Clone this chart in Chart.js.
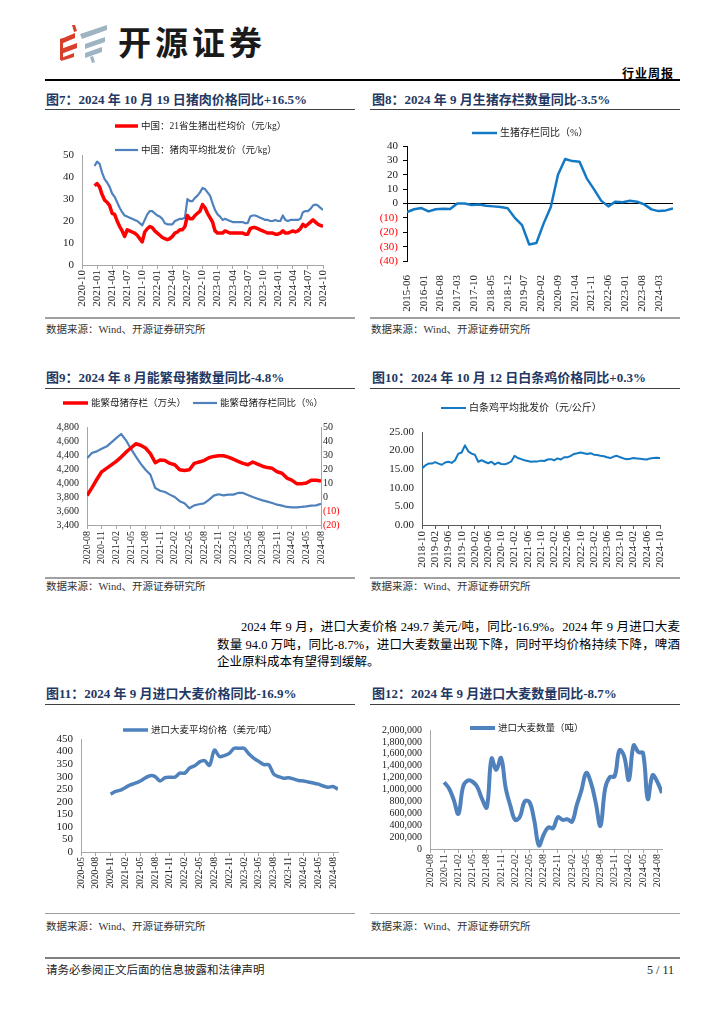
<!DOCTYPE html>
<html lang="zh-CN">
<head>
<meta charset="utf-8">
<title>行业周报 5/11</title>
<script src="https://cdn.jsdelivr.net/npm/chart.js@4.4.1/dist/chart.umd.min.js"></script>
<style>
  html, body { margin: 0; padding: 0; background: #fff; }
  #page { position: relative; width: 724px; height: 1024px; overflow: hidden;
          font-family: 'Liberation Serif', 'Noto Sans CJK SC', serif; color: #000; }
  .abs { position: absolute; }
  .title { position: absolute; font-size: 13px; font-weight: bold; color: #1f3864; line-height: 18px; white-space: nowrap; }
  .src { position: absolute; font-size: 10.5px; color: #333; line-height: 14px; white-space: nowrap; }
  .para { position: absolute; font-size: 12.5px; line-height: 18px; white-space: nowrap; }
  .just { text-align: justify; text-align-last: justify; }
  canvas { position: absolute; }
</style>
</head>
<body>
<div id="page">
  <!-- header -->
  <svg class="abs" style="left:58px;top:22px" width="52" height="42" viewBox="0 0 52 42">
    <g fill="#d9402b">
      <polygon points="14,3 17,3 19,9 16,10"/>
      <polygon points="3,17 17,11 17,16 3,22"/>
      <polygon points="3,27 19,21 19,26 3,32"/>
      <polygon points="3,36 16,31 16,35 3,39"/>
      <polygon points="2,17 5,16 5,38 2,38"/>
    </g>
    <g fill="#9fb4c3">
      <polygon points="22,12 49,3 49,8 24,17"/>
      <polygon points="27,22 47,15 47,20 27,27"/>
      <polygon points="27,31 44,25 44,30 27,36"/>
      <polygon points="32,35 35,34 37,40 34,41"/>
    </g>
  </svg>
  <div class="abs" style="left:118px;top:21px;font-family:'Noto Sans CJK SC';font-weight:bold;font-size:33px;line-height:40px;letter-spacing:4px;color:#1a1a1a">开源证券</div>
  <div class="abs" style="right:50px;top:65px;font-family:'Noto Sans CJK SC';font-weight:bold;font-size:12px;line-height:16px;letter-spacing:1px">行业周报</div>
  <div class="abs" style="left:45px;top:79px;width:635px;height:1.5px;background:#000"></div>

  <!-- row 1 -->
  <div class="title" style="left:46px;top:91px">图7：2024 年 10 月 19 日猪肉价格同比+16.5%</div>
  <div class="title" style="left:372px;top:91px">图8：2024 年 9 月生猪存栏数量同比-3.5%</div>
  <div class="abs" style="left:45px;top:108.5px;width:310px;height:1px;background:#404040"></div>
  <div class="abs" style="left:370px;top:108.5px;width:310px;height:1px;background:#404040"></div>
  <canvas id="c7" width="310" height="206" style="left:45px;top:111px"></canvas>
  <canvas id="c8" width="315" height="206" style="left:365px;top:111px"></canvas>
  <div class="abs" style="left:45px;top:317px;width:310px;height:1.5px;background:#a0a0a0"></div>
  <div class="abs" style="left:370px;top:317px;width:310px;height:1.5px;background:#a0a0a0"></div>
  <div class="src" style="left:46px;top:323px">数据来源：Wind、开源证券研究所</div>
  <div class="src" style="left:371px;top:323px">数据来源：Wind、开源证券研究所</div>

  <!-- row 2 -->
  <div class="title" style="left:46px;top:369px">图9：2024 年 8 月能繁母猪数量同比-4.8%</div>
  <div class="title" style="left:372px;top:369px">图10：2024 年 10 月 12 日白条鸡价格同比+0.3%</div>
  <div class="abs" style="left:45px;top:388px;width:310px;height:1px;background:#404040"></div>
  <div class="abs" style="left:370px;top:388px;width:310px;height:1px;background:#404040"></div>
  <canvas id="c9" width="310" height="187" style="left:45px;top:390px"></canvas>
  <canvas id="c10" width="315" height="187" style="left:365px;top:390px"></canvas>
  <div class="abs" style="left:45px;top:577px;width:310px;height:1.5px;background:#a0a0a0"></div>
  <div class="abs" style="left:370px;top:577px;width:310px;height:1.5px;background:#a0a0a0"></div>
  <div class="src" style="left:46px;top:580px">数据来源：Wind、开源证券研究所</div>
  <div class="src" style="left:371px;top:580px">数据来源：Wind、开源证券研究所</div>

  <!-- paragraph -->
  <div class="para just" style="left:241px;top:618px;width:439px">2024 年 9 月，进口大麦价格 249.7 美元/吨，同比-16.9%。2024 年 9 月进口大麦</div>
  <div class="para just" style="left:217px;top:636px;width:463px">数量 94.0 万吨，同比-8.7%，进口大麦数量出现下降，同时平均价格持续下降，啤酒</div>
  <div class="para" style="left:217px;top:653px">企业原料成本有望得到缓解。</div>

  <!-- row 3 -->
  <div class="title" style="left:46px;top:685px">图11：2024 年 9 月进口大麦价格同比-16.9%</div>
  <div class="title" style="left:372px;top:685px">图12：2024 年 9 月进口大麦数量同比-8.7%</div>
  <div class="abs" style="left:45px;top:704px;width:310px;height:1px;background:#404040"></div>
  <div class="abs" style="left:370px;top:704px;width:310px;height:1px;background:#404040"></div>
  <canvas id="c11" width="310" height="206" style="left:45px;top:706px"></canvas>
  <canvas id="c12" width="315" height="206" style="left:365px;top:706px"></canvas>
  <div class="abs" style="left:45px;top:912.5px;width:310px;height:1.5px;background:#a0a0a0"></div>
  <div class="abs" style="left:370px;top:912.5px;width:310px;height:1.5px;background:#a0a0a0"></div>
  <div class="src" style="left:46px;top:920px">数据来源：Wind、开源证券研究所</div>
  <div class="src" style="left:371px;top:920px">数据来源：Wind、开源证券研究所</div>

  <!-- footer -->
  <div class="abs" style="left:45px;top:957px;width:635px;height:1.5px;background:#808080"></div>
  <div class="abs" style="left:46px;top:962px;font-size:11.5px;line-height:16px;color:#222">请务必参阅正文后面的信息披露和法律声明</div>
  <div class="abs" style="right:50px;top:962px;font-size:12px;line-height:16px;color:#222">5 / 11</div>
</div>

<script>
const FONT = "'Liberation Serif', 'Noto Sans CJK SC', serif";
const RED = "#ff0000";
const BLUE = "#4f81bd";
const BLUE2 = "#1479c4";
const GRAY = "#a6a6a6";

// Fig 7: pig prices, half-month samples, months after 2020-10
const pigLabels = ["2020-10", "2021-01", "2021-04", "2021-07", "2021-10", "2022-01", "2022-04", "2022-07", "2022-10",
                   "2023-01", "2023-04", "2023-07", "2023-10", "2024-01", "2024-04", "2024-07", "2024-10"];
const pigStart = 2.5, pigStep = 0.5;
const hogPrice = [
    36, 37, 35.5, 32, 29.5, 28.5, 27, 23.5, 23, 20, 17.5, 15.5,
    13, 16, 15.5, 15, 14.5, 13.5, 12, 10.5, 15, 16.5, 17.5, 17,
    15.5, 14.5, 13.5, 12.5, 12, 11.5, 12, 13, 14.5, 15, 16, 16,
    17.5, 22.5, 21, 21, 22.5, 23.5, 24.5, 27.5, 26, 23.5, 21.5, 19.5,
    15.5, 14.5, 14.5, 14.5, 15.5, 15, 14.5, 14.5, 14.5, 14.5, 14.5, 14.5,
    14, 14, 16.5, 17, 17, 16.5, 16, 15.5, 15, 14.5, 14.5, 14.5,
    14, 14, 14.5, 15.5, 14.5, 14.5, 15, 15.5, 15, 15.5, 16.5, 18.5,
    17.5, 18.5, 19.5, 20.5, 19.5, 18.5, 18, 17.5
];
const porkPrice = [
    45, 47, 46, 42, 39, 37.5, 35.5, 32.5, 31, 28.5, 26, 24,
    22.5, 22, 21.5, 21, 20.5, 20, 19, 18, 20.5, 23, 24.5, 24.5,
    23.5, 22.5, 22, 21, 19, 18.5, 18.5, 18.5, 20, 20.5, 21, 21,
    21.5, 30, 29, 29, 30.5, 31.5, 33, 35, 34.5, 33, 31.5, 28,
    25, 23, 22, 20.5, 21, 20.5, 20, 19.5, 19.5, 19.5, 19.5, 19.5,
    19, 19, 22, 22.5, 22.5, 22, 21.5, 21, 20.5, 20.5, 20, 20,
    20.5, 20, 20, 22.5, 20.5, 20, 20.5, 20.5, 20.5, 20.5, 21, 24,
    24.5, 24.5, 25.5, 27, 27.5, 27, 26, 25
];

// Fig 8: hog inventory YoY, quarterly from 2015-06
const stockLabels = ["2015-06", "2016-01", "2016-08", "2017-03", "2017-10", "2018-05", "2018-12", "2019-07",
                     "2020-02", "2020-09", "2021-04", "2021-11", "2022-06", "2023-01", "2023-08", "2024-03"];
const stockYoy = [-6, -4, -3.2, -5.5, -4, -3.7, -3.8, 0, 0, -1, -0.7, -1.5, -2, -2.5, -3.3, -10, -15, -28.5, -27.5,
                  -14, -2.5, 20, 31, 29.5, 29, 17.5, 10, 2, -2, 1.3, 0.9, 1.9, 1.2, -0.6, -4.1, -5.3, -4.8, -3.5];

// Fig 9: breeding sows, monthly from 2020-08
const sowLabels = ["2020-08", "2020-11", "2021-02", "2021-05", "2021-08", "2021-11", "2022-02", "2022-05", "2022-08",
                   "2022-11", "2023-02", "2023-05", "2023-08", "2023-11", "2024-02", "2024-05", "2024-08"];
const sowStock = [3820, 3930, 4050, 4160, 4210, 4260, 4310, 4370, 4440, 4500,
                  4560, 4540, 4500, 4420, 4290, 4330, 4320, 4280, 4260, 4190,
                  4180, 4190, 4280, 4300, 4320, 4360, 4380, 4390, 4390, 4370,
                  4340, 4310, 4280, 4260, 4300, 4270, 4240, 4220, 4210, 4160,
                  4140, 4070, 4040, 3990, 3990, 4000, 4040, 4040, 4030];
const sowYoy = [27.6, 31.4, 32.6, 34.5, 36, 39, 42, 45, 40.5, 34.5,
                29, 23.8, 19.5, 16, 6.4, 4.5, 3.6, 1.7, 0, -3,
                -4.5, -8, -6, -5.2, -4.5, -2, 1, 2, 1.2, 1.7,
                1.7, 2.9, 2.9, 1.4, 0, -1.2, -2.4, -3.3, -4.3, -5.5,
                -6.2, -7.1, -7.4, -7.4, -7.1, -6.7, -6.2, -6, -4.8];

// Fig 10: broiler wholesale price, monthly from 2018-10
const chickenLabels = ["2018-10", "2019-02", "2019-06", "2019-10", "2020-02", "2020-06", "2020-10", "2021-02", "2021-06",
                       "2021-10", "2022-02", "2022-06", "2022-10", "2023-02", "2023-06", "2023-10", "2024-02", "2024-06", "2024-10"];
const chickenPrice = [15.2, 16, 16.5, 16.5, 16.9, 16.5, 16.2, 16.8, 17, 16.7,
                      17.4, 19.2, 19.5, 21.4, 19.8, 19.2, 18.9, 17, 17.4, 17,
                      16.6, 17, 16.3, 16.8, 16.4, 16.3, 16.6, 17.1, 18.6, 18,
                      17.7, 17.4, 17.2, 17, 17.1, 17.1, 17.3, 17.2, 17.6, 17.7,
                      17.4, 17.9, 17.6, 18.2, 18.2, 18.6, 19.1, 19.3, 19.5, 19.3,
                      19.1, 19.3, 18.9, 18.8, 18.6, 18.5, 18.2, 18, 18.4, 18.6,
                      18.2, 17.9, 17.7, 17.8, 18, 17.9, 17.8, 17.7, 17.6, 17.9,
                      18, 18.1, 18];

// Fig 11: imported barley price, monthly 2020-11 .. 2024-09 (axis from 2020-05)
const barleyPriceLabels = ["2020-05", "2020-08", "2020-11", "2021-02", "2021-05", "2021-08", "2021-11", "2022-02", "2022-05",
                           "2022-08", "2022-11", "2023-02", "2023-05", "2023-08", "2023-11", "2024-02", "2024-05", "2024-08"];
const barleyPrice = [230, 241, 246, 257, 267, 274, 283, 295, 304, 300,
                     283, 296, 298, 298, 314, 314, 335, 343, 359, 364,
                     345, 406, 380, 384, 393, 413, 413, 413, 390, 373,
                     360, 348, 347, 310, 300, 294, 296, 291, 285, 283,
                     279, 275, 270, 263, 258, 261, 249.7];

// Fig 12: imported barley volume (t), monthly 2020-11 .. 2024-09 (axis from 2020-08)
const barleyQtyLabels = sowLabels;
const barleyQty = [1120000, 1020000, 830000, 590000, 1050000, 1150000, 1130000, 1040000, 840000, 700000,
                   1520000, 1330000, 1530000, 1020000, 720000, 490000, 545000, 800000, 790000, 490000,
                   60000, 240000, 365000, 350000, 535000, 490000, 500000, 460000, 740000, 990000,
                   1280000, 1110000, 780000, 390000, 1020000, 1210000, 1220000, 1660000, 1560000, 1160000,
                   1740000, 1630000, 1610000, 840000, 1240000, 1130000, 940000];

Chart.defaults.font.family = FONT;
Chart.defaults.font.size = 11;
Chart.defaults.color = "#222";
Chart.defaults.animation = false;
Chart.defaults.plugins.legend.display = false;
Chart.defaults.plugins.tooltip.enabled = false;
Chart.defaults.elements.point.radius = 0;
Chart.defaults.elements.line.borderJoinStyle = "round";

// legend drawn at fixed spots so it can sit where the report puts it
const lineLegend = {
    id: "lineLegend",
    afterDraw(chart, args, opts) {
        if (!opts.items) return;
        const ctx = chart.ctx;
        ctx.save();
        ctx.font = (opts.size || 10) + "px " + FONT;
        ctx.textBaseline = "middle";
        ctx.fillStyle = "#222";
        chart.data.datasets.forEach((ds, i) => {
            const it = opts.items[i];
            if (!it) return;
            ctx.strokeStyle = ds.borderColor;
            ctx.lineWidth = ds.borderWidth;
            ctx.beginPath();
            ctx.moveTo(it.x, it.y);
            ctx.lineTo(it.x + it.len, it.y);
            ctx.stroke();
            ctx.fillText(ds.label, it.x + it.len + 3, it.y + 0.5);
        });
        ctx.restore();
    }
};
Chart.register(lineLegend);

function pts(values, start, step) {
    return values.map((v, i) => ({ x: start + i * step, y: v }));
}

function dateAxis(labels, every, max, size, height, color, pad) {
    return {
        type: "linear", min: 0, max: max,
        afterBuildTicks: s => { s.ticks = labels.map((t, i) => ({ value: i * every })); },
        afterFit: s => { s.height = height; },
        ticks: { autoSkip: false, minRotation: 90, maxRotation: 90, padding: pad == null ? 1 : pad,
                 font: { size: size }, color: "#222", callback: (v, i) => labels[i] },
        grid: { drawOnChartArea: false, tickLength: 4, color: color },
        border: { color: color }
    };
}

const paren = v => v < 0 ? "(" + (-v) + ")" : String(v);
const comma = v => v.toLocaleString("en-US");

function numAxis(min, max, step, width, size, fmt, color, o) {
    o = o || {};
    return {
        type: "linear", position: o.pos || "left", min: min, max: max,
        afterFit: s => { s.width = width; },
        ticks: { stepSize: step, autoSkip: false, padding: o.pad == null ? 8 : o.pad, font: { size: size }, callback: fmt,
                 color: c => c.tick && c.tick.value < 0 ? RED : "#222" },
        grid: o.grid || { drawOnChartArea: false, drawTicks: false },
        border: { color: color }
    };
}

// Fig 7
new Chart(document.getElementById("c7"), {
    type: "line",
    data: { datasets: [
        { label: "中国：21省生猪出栏均价（元/kg）", data: pts(hogPrice, pigStart, pigStep), borderColor: RED, borderWidth: 3.5 },
        { label: "中国：猪肉平均批发价（元/kg）", data: pts(porkPrice, pigStart, pigStep), borderColor: BLUE, borderWidth: 2.2 }
    ]},
    options: {
        responsive: false,
        layout: { padding: { left: 0, right: 32, top: 44, bottom: 0 } },
        scales: {
            x: dateAxis(pigLabels, 3, 48, 11, 52, GRAY),
            y: numAxis(0, 50, 10, 37, 11, v => v, GRAY)
        },
        plugins: { lineLegend: { size: 9.5, items: [{ x: 70, y: 15, len: 23 }, { x: 70, y: 39, len: 23 }] } }
    }
});

// Fig 8
const x8 = dateAxis(stockLabels, 7, 111, 11, 56, "#000", 6);
x8.grid = { display: false };
x8.border = { display: false };
new Chart(document.getElementById("c8"), {
    type: "line",
    data: { datasets: [
        { label: "生猪存栏同比（%）", data: pts(stockYoy, 0, 3), borderColor: BLUE2, borderWidth: 2.5 }
    ]},
    options: {
        responsive: false,
        layout: { padding: { left: 0, right: 7, top: 35, bottom: 0 } },
        scales: {
            x: x8,
            y: numAxis(-40, 40, 10, 42, 11, paren, "#000", {
                pad: 5,
                grid: { drawOnChartArea: true, drawTicks: true, tickLength: 4, tickColor: "#000",
                        color: c => c.tick && c.tick.value === 0 ? "#000" : "rgba(0,0,0,0)" }
            })
        },
        plugins: { lineLegend: { size: 10, items: [{ x: 107, y: 22, len: 25 }] } }
    }
});

// Fig 9
new Chart(document.getElementById("c9"), {
    type: "line",
    data: { datasets: [
        { label: "能繁母猪存栏（万头）", data: pts(sowStock, 0, 1), borderColor: RED, borderWidth: 3.5, yAxisID: "y" },
        { label: "能繁母猪存栏同比（%）", data: pts(sowYoy, 0, 1), borderColor: BLUE, borderWidth: 2.2, yAxisID: "y1" }
    ]},
    options: {
        responsive: false,
        layout: { padding: { left: 0, right: 0, top: 37, bottom: 0 } },
        scales: {
            x: dateAxis(sowLabels, 3, 48, 10, 52, GRAY, 2),
            y: numAxis(3400, 4800, 200, 42, 10, comma, GRAY),
            y1: numAxis(-20, 50, 10, 34, 10, paren, GRAY, { pos: "right", pad: 2 })
        },
        plugins: { lineLegend: { size: 9.5, items: [{ x: 18, y: 13, len: 25 }, { x: 148, y: 13, len: 24 }] } }
    }
});

// Fig 10
new Chart(document.getElementById("c10"), {
    type: "line",
    data: { datasets: [
        { label: "白条鸡平均批发价（元/公斤）", data: pts(chickenPrice, 0, 1), borderColor: BLUE2, borderWidth: 2 }
    ]},
    options: {
        responsive: false,
        layout: { padding: { left: 0, right: 20, top: 42, bottom: 0 } },
        scales: {
            x: dateAxis(chickenLabels, 4, 72, 11, 52, "#595959", 2),
            y: numAxis(0, 25, 5, 57, 11, v => v.toFixed(2), "#595959")
        },
        plugins: { lineLegend: { size: 10, items: [{ x: 76, y: 18, len: 25 }] } }
    }
});

// Fig 11
new Chart(document.getElementById("c11"), {
    type: "line",
    data: { datasets: [
        { label: "进口大麦平均价格（美元/吨）", data: pts(barleyPrice, 6, 1), borderColor: BLUE, borderWidth: 3.5, tension: 0.3 }
    ]},
    options: {
        responsive: false,
        layout: { padding: { left: 0, right: 17, top: 33, bottom: 0 } },
        scales: {
            x: dateAxis(barleyPriceLabels, 3, 52, 9.5, 60, GRAY, 1),
            y: numAxis(0, 450, 50, 36, 11, v => v, GRAY)
        },
        plugins: { lineLegend: { size: 9.5, items: [{ x: 78, y: 24, len: 25 }] } }
    }
});

// Fig 12
new Chart(document.getElementById("c12"), {
    type: "line",
    data: { datasets: [
        { label: "进口大麦数量（吨）", data: pts(barleyQty, 3, 1), borderColor: BLUE, borderWidth: 4, tension: 0.4 }
    ]},
    options: {
        responsive: false,
        layout: { padding: { left: 0, right: 18, top: 24, bottom: 0 } },
        scales: {
            x: dateAxis(barleyQtyLabels, 3, 49, 10, 63, GRAY, 1),
            y: numAxis(0, 2000000, 200000, 65, 10, comma, GRAY)
        },
        plugins: { lineLegend: { size: 9.5, items: [{ x: 105, y: 22, len: 25 }] } }
    }
});
</script>
</body>
</html>
